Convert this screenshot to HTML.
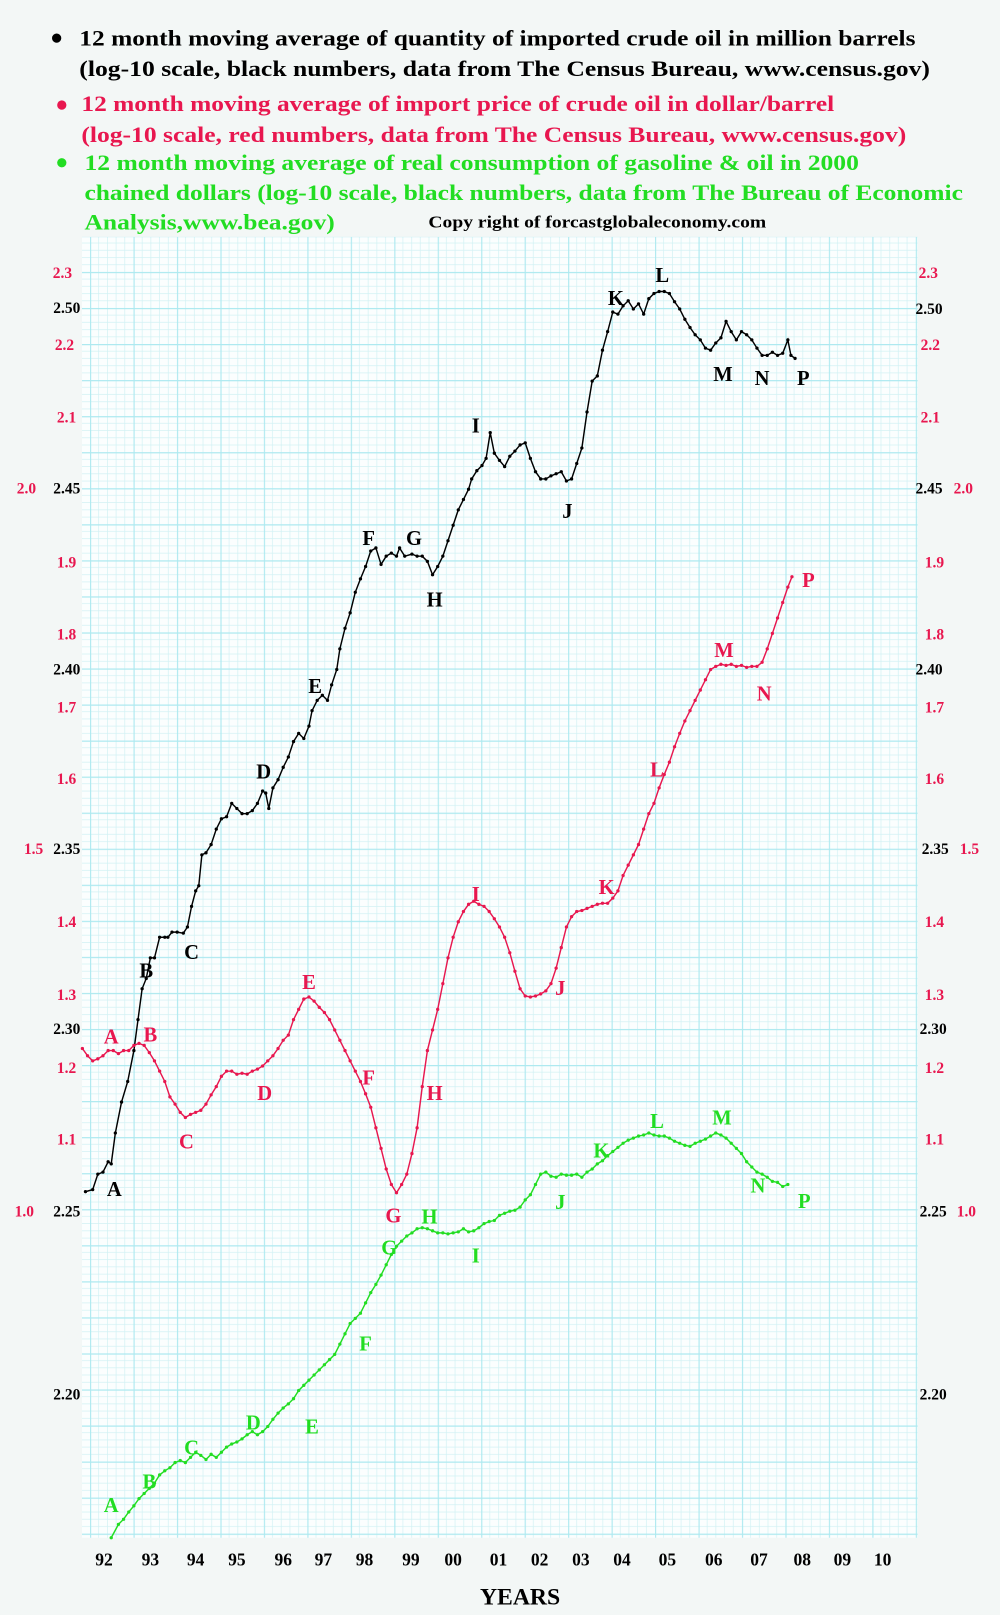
<!DOCTYPE html>
<html><head><meta charset="utf-8"><style>
html,body{margin:0;padding:0;background:#f3f7f6;}
svg{display:block;}
</style></head><body>
<svg width="1000" height="1615" viewBox="0 0 971 1568" preserveAspectRatio="none" xmlns="http://www.w3.org/2000/svg">
<defs>
<pattern id="g" patternUnits="userSpaceOnUse" x="3" y="19" width="42.2" height="35">
<g stroke="#d2f1f4" stroke-width="0.7">
<line x1="8.44" y1="0" x2="8.44" y2="35"/><line x1="16.88" y1="0" x2="16.88" y2="35"/><line x1="25.32" y1="0" x2="25.32" y2="35"/><line x1="33.76" y1="0" x2="33.76" y2="35"/>
<line x1="0" y1="7" x2="42.2" y2="7"/><line x1="0" y1="14" x2="42.2" y2="14"/><line x1="0" y1="21" x2="42.2" y2="21"/><line x1="0" y1="28" x2="42.2" y2="28"/>
</g>
<g stroke="#ade9f0" stroke-width="1.1"><line x1="0.6" y1="0" x2="0.6" y2="35"/><line x1="0" y1="0.6" x2="42.2" y2="0.6"/></g>
</pattern>
<marker id="mk" markerWidth="4" markerHeight="4" refX="2" refY="2" markerUnits="userSpaceOnUse"><circle cx="2" cy="2" r="1.6" fill="#000"/></marker>
<marker id="mr" markerWidth="4" markerHeight="4" refX="2" refY="2" markerUnits="userSpaceOnUse"><circle cx="2" cy="2" r="1.6" fill="#e8174f"/></marker>
<marker id="mg" markerWidth="4" markerHeight="4" refX="2" refY="2" markerUnits="userSpaceOnUse"><circle cx="2" cy="2" r="1.6" fill="#22dd22"/></marker>
</defs>
<rect x="0" y="0" width="971" height="1568" fill="#f3f7f6"/>
<rect x="79.6" y="230" width="811.4" height="1263" fill="#fbfefe"/>
<rect x="79.6" y="230" width="811.4" height="1263" fill="url(#g)"/>

<g font-family="Liberation Serif, serif" font-weight="bold" font-size="22">
<circle cx="55" cy="37" r="4.5" fill="#000"/>
<text x="77" y="44" textLength="812" lengthAdjust="spacingAndGlyphs" fill="#000">12 month moving average of quantity of imported crude oil in million barrels</text>
<text x="77" y="74" textLength="826" lengthAdjust="spacingAndGlyphs" fill="#000">(log-10 scale, black numbers, data from The Census Bureau, www.census.gov)</text>
<circle cx="60" cy="102" r="4.5" fill="#e8174f"/>
<text x="79" y="108" textLength="731" lengthAdjust="spacingAndGlyphs" fill="#e8174f">12 month moving average of import price of crude oil in dollar/barrel</text>
<text x="79" y="138" textLength="801" lengthAdjust="spacingAndGlyphs" fill="#e8174f">(log-10 scale, red numbers, data from The Census Bureau, www.census.gov)</text>
<circle cx="60" cy="158" r="4.5" fill="#22dd22"/>
<text x="82" y="165" textLength="752" lengthAdjust="spacingAndGlyphs" fill="#22dd22">12 month moving average of real consumption of gasoline &amp; oil in 2000</text>
<text x="82" y="194" textLength="853" lengthAdjust="spacingAndGlyphs" fill="#22dd22">chained dollars (log-10 scale, black numbers, data from The Bureau of Economic</text>
<text x="82" y="223" textLength="243" lengthAdjust="spacingAndGlyphs" fill="#22dd22">Analysis,www.bea.gov)</text>
<text x="416" y="221" font-size="16" textLength="328" lengthAdjust="spacingAndGlyphs" fill="#000">Copy right of forcastglobaleconomy.com</text>
</g>

<g font-family="Liberation Serif, serif" font-weight="bold" font-size="15">
<g fill="#e8174f" text-anchor="end">
<text x="70" y="270">2.3</text><text x="72" y="340">2.2</text><text x="74" y="410">2.1</text><text x="35" y="479">2.0</text>
<text x="74" y="551">1.9</text><text x="74" y="621">1.8</text><text x="74" y="692">1.7</text><text x="74" y="761">1.6</text>
<text x="42" y="829">1.5</text><text x="74" y="900">1.4</text><text x="74" y="971">1.3</text><text x="74" y="1042">1.2</text>
<text x="74" y="1111">1.1</text><text x="33" y="1181">1.0</text>
</g>
<g fill="#000" text-anchor="end">
<text x="78" y="304">2.50</text><text x="78" y="479">2.45</text><text x="78" y="655">2.40</text><text x="78" y="829">2.35</text>
<text x="78" y="1004">2.30</text><text x="78" y="1181">2.25</text><text x="78" y="1359">2.20</text>
</g>
<g fill="#e8174f">
<text x="892" y="270">2.3</text><text x="894" y="340">2.2</text><text x="894" y="410">2.1</text><text x="926" y="479">2.0</text>
<text x="898" y="551">1.9</text><text x="898" y="621">1.8</text><text x="898" y="692">1.7</text><text x="898" y="761">1.6</text>
<text x="932" y="829">1.5</text><text x="898" y="900">1.4</text><text x="898" y="971">1.3</text><text x="898" y="1042">1.2</text>
<text x="898" y="1111">1.1</text><text x="929" y="1181">1.0</text>
</g>
<g fill="#000">
<text x="889" y="305">2.50</text><text x="889" y="479">2.45</text><text x="889" y="655">2.40</text><text x="895" y="829">2.35</text>
<text x="893" y="1004">2.30</text><text x="893" y="1181">2.25</text><text x="893" y="1359">2.20</text>
</g>
</g>

<polyline fill="none" stroke="#000" stroke-width="1.4" marker-start="url(#mk)" marker-mid="url(#mk)" marker-end="url(#mk)" points="83,1157 90,1155 95,1140 100,1138 105,1128 108,1130 112,1100 118,1070 124,1050 130,1020 134,990 138,960 142,950 146,930 150,930 155,910 160,910 163,910 167,905 172,905 178,906 182,900 186,880 190,865 193,860 196,830 200,828 205,820 210,805 215,795 220,793 225,780 230,785 235,790 240,790 245,787 250,780 255,768 258,770 261,785 265,765 270,757 275,745 280,735 285,720 290,712 295,717 300,705 303,690 308,680 313,675 318,680 322,665 327,650 330,630 335,610 340,595 345,575 350,562 355,550 360,535 365,532 370,548 375,540 380,537 385,540 388,532 393,540 400,538 405,540 410,540 415,545 420,558 425,550 430,540 435,525 440,510 445,495 450,485 455,475 458,465 463,457 468,452 472,445 476,420 480,440 485,447 490,453 495,443 500,438 505,432 510,430 515,445 520,458 525,465 530,465 535,462 540,460 545,458 550,467 555,465 560,450 565,435 570,400 575,370 580,365 585,340 590,322 595,303 600,305 605,297 610,292 615,300 620,295 625,305 630,290 635,285 640,283 645,283 650,285 655,293 660,300 665,310 670,318 675,325 680,330 685,338 690,340 695,333 700,328 705,312 710,322 715,330 720,322 725,325 730,330 735,338 740,345 745,345 750,342 755,345 760,343 765,330 768,345 772,348"/>

<polyline fill="none" stroke="#e8174f" stroke-width="1.4" marker-start="url(#mr)" marker-mid="url(#mr)" marker-end="url(#mr)" points="80,1018 85,1025 90,1030 95,1028 100,1025 105,1020 110,1020 115,1023 120,1020 125,1020 130,1015 135,1013 140,1015 145,1022 150,1030 155,1040 160,1050 165,1065 170,1072 175,1080 180,1085 185,1082 190,1080 195,1078 200,1072 205,1063 210,1055 215,1045 220,1040 225,1040 230,1043 235,1042 240,1043 245,1040 250,1038 255,1035 260,1030 265,1025 270,1018 275,1010 280,1005 285,990 290,980 295,970 300,968 305,972 310,978 315,983 320,990 325,1000 330,1010 335,1020 340,1030 345,1040 350,1050 355,1062 360,1075 365,1095 370,1115 375,1135 380,1150 385,1158 390,1150 395,1140 400,1120 405,1095 410,1055 415,1020 420,1000 425,980 430,955 435,930 440,910 445,895 450,885 455,878 460,875 465,878 470,880 475,885 480,892 485,900 490,910 495,925 500,943 505,960 510,967 515,968 520,967 525,965 530,962 535,955 540,940 545,920 550,900 555,890 560,885 565,884 570,882 575,880 580,878 585,877 590,877 595,872 600,865 605,850 610,840 615,830 620,820 625,805 630,790 635,780 640,765 645,752 650,740 655,725 660,712 665,700 670,690 675,680 680,670 685,660 690,650 695,647 700,645 705,646 710,645 715,647 720,646 725,648 730,647 735,647 740,643 745,630 750,615 755,600 760,585 765,570 769,560"/>

<polyline fill="none" stroke="#22dd22" stroke-width="1.4" marker-start="url(#mg)" marker-mid="url(#mg)" marker-end="url(#mg)" points="108,1493 115,1480 120,1475 125,1468 130,1462 135,1455 140,1450 145,1445 150,1440 155,1432 160,1428 165,1425 170,1420 175,1418 180,1420 185,1415 190,1410 195,1413 200,1417 205,1412 210,1415 215,1410 220,1405 225,1402 230,1400 235,1397 240,1393 245,1390 250,1393 255,1390 260,1385 265,1378 270,1372 275,1367 280,1363 285,1358 290,1350 295,1345 300,1340 305,1335 310,1330 315,1325 320,1320 325,1315 330,1305 335,1295 340,1285 345,1280 350,1275 355,1265 360,1255 365,1247 370,1238 375,1228 380,1218 385,1210 390,1205 395,1200 400,1197 405,1193 410,1192 415,1193 420,1195 425,1197 430,1197 435,1198 440,1197 445,1196 450,1193 455,1196 460,1195 465,1192 470,1188 475,1186 480,1185 485,1180 490,1178 495,1176 500,1175 505,1172 510,1165 515,1160 520,1150 525,1140 530,1138 535,1142 540,1143 545,1140 550,1141 555,1141 560,1140 565,1143 570,1138 575,1135 580,1130 585,1127 590,1122 595,1118 600,1114 605,1110 610,1107 615,1105 620,1103 625,1102 630,1100 635,1102 640,1103 645,1103 650,1105 655,1108 660,1110 665,1112 670,1113 675,1110 680,1108 685,1106 690,1103 695,1100 700,1102 705,1105 710,1110 715,1115 720,1120 725,1128 730,1133 735,1138 740,1140 745,1143 750,1147 755,1148 760,1152 765,1150"/>

<g font-family="Liberation Serif, serif" font-weight="bold" font-size="20" text-anchor="middle">
<g fill="#000">
<text x="111" y="1161">A</text><text x="142" y="949">B</text><text x="186" y="931">C</text><text x="256" y="756">D</text><text x="306" y="673">E</text>
<text x="358" y="529">F</text><text x="402" y="529">G</text><text x="422" y="589">H</text><text x="462" y="420">I</text><text x="551" y="503">J</text>
<text x="598" y="296">K</text><text x="643" y="274">L</text><text x="702" y="370">M</text><text x="740" y="374">N</text><text x="780" y="374">P</text>
</g>
<g fill="#e8174f">
<text x="108" y="1013">A</text><text x="146" y="1011">B</text><text x="181" y="1115">C</text><text x="257" y="1068">D</text><text x="300" y="960">E</text>
<text x="358" y="1053">F</text><text x="382" y="1187">G</text><text x="422" y="1068">H</text><text x="462" y="875">I</text><text x="544" y="966">J</text>
<text x="589" y="868">K</text><text x="638" y="754">L</text><text x="703" y="638">M</text><text x="742" y="680">N</text><text x="785" y="570">P</text>
</g>
<g fill="#22dd22">
<text x="108" y="1468">A</text><text x="145" y="1445">B</text><text x="186" y="1412">C</text><text x="246" y="1388">D</text><text x="303" y="1392">E</text>
<text x="355" y="1311">F</text><text x="378" y="1218">G</text><text x="417" y="1188">H</text><text x="462" y="1226">I</text><text x="544" y="1174">J</text>
<text x="584" y="1124">K</text><text x="638" y="1095">L</text><text x="701" y="1092">M</text><text x="736" y="1158">N</text><text x="781" y="1173">P</text>
</g>
</g>

<g font-family="Liberation Serif, serif" font-weight="bold" font-size="17" fill="#000" text-anchor="middle">
<text x="101" y="1520">92</text><text x="146" y="1520">93</text><text x="190" y="1520">94</text><text x="230" y="1520">95</text>
<text x="275" y="1520">96</text><text x="314" y="1520">97</text><text x="354" y="1520">98</text><text x="399" y="1520">99</text>
<text x="440" y="1520">00</text><text x="484" y="1520">01</text><text x="524" y="1520">02</text><text x="564" y="1520">03</text>
<text x="604" y="1520">04</text><text x="648" y="1520">05</text><text x="693" y="1520">06</text><text x="737" y="1520">07</text>
<text x="779" y="1520">08</text><text x="818" y="1520">09</text><text x="857" y="1520">10</text>
<text x="505" y="1558" font-size="23">YEARS</text>
</g>
</svg>
</body></html>
